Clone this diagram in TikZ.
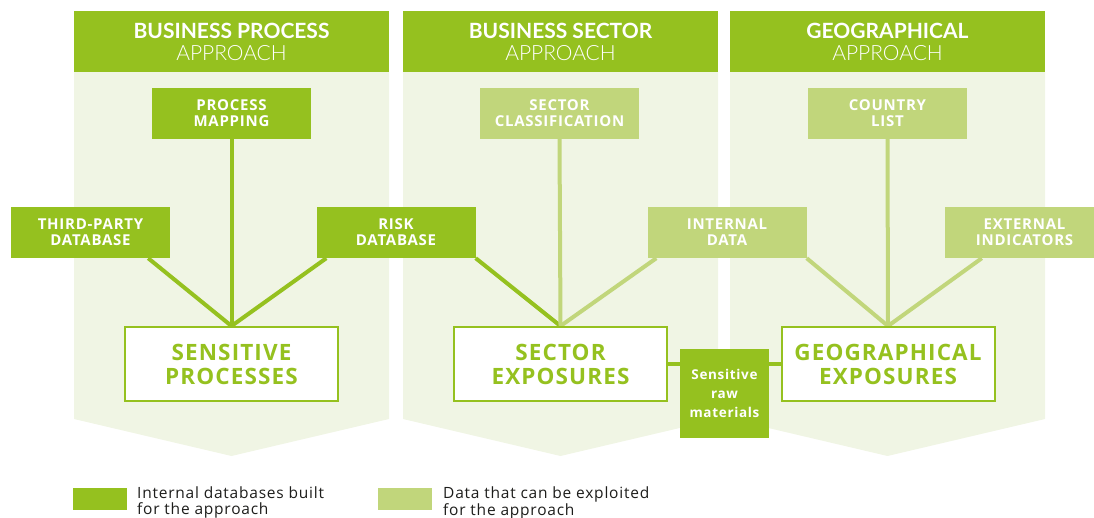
\documentclass[tikz,border=0pt]{standalone}
\usepackage{fontspec}
\setmainfont{Lato}
\newfontfamily\lightfont{Lato Light}
\newfontfamily\boxfont{Open Sans}[LetterSpace=5]

\definecolor{darkgreen}{HTML}{95C11F}
\definecolor{lightgreen}{HTML}{C1D67B}
\definecolor{paleback}{HTML}{F0F5E4}
\definecolor{legendtext}{HTML}{1D1D1B}

\pgfdeclarelayer{backdrop}
\pgfdeclarelayer{links}
\pgfsetlayers{backdrop,links,main}

\tikzset{
  header/.style={fill=darkgreen, text=white, minimum width=315, minimum height=61, inner sep=0, align=center, font=\fontsize{21}{22}\selectfont},
  darkbox/.style={fill=darkgreen, text=white, minimum width=159, minimum height=51, inner sep=0, align=center, font=\boxfont\fontsize{15}{16}\selectfont\bfseries},
  lightbox/.style={darkbox, fill=lightgreen},
  resultbox/.style={draw=darkgreen, line width=2, fill=white, text=darkgreen, minimum width=213, minimum height=74, inner sep=0, align=center, font=\boxfont\fontsize{22.5}{24}\selectfont\bfseries},
  darklink/.style={draw=darkgreen, line width=4},
  lightlink/.style={draw=lightgreen, line width=4},
  legendlabel/.style={anchor=north west, inner sep=0, align=left, text=legendtext, font=\boxfont\fontsize{15.5}{15.5}\selectfont},
}

\begin{document}
\begin{tikzpicture}[x=1pt, y=-1pt]
\useasboundingbox (0,0) rectangle (1094,518);

%%% backgrounds
\begin{pgfonlayer}{backdrop}
\foreach \xl/\xm/\xr in {74/231.5/389, 403/560.5/718, 730/887.5/1045}
  \fill [paleback] (\xl,72) -- (\xr,72) -- (\xr,419) -- (\xm,456) -- (\xl,419) -- cycle;
\end{pgfonlayer}

%%% nodes

% approach headers
\node [header] (hproc) at (231.5, 41.5) {{\bfseries BUSINESS PROCESS}\\{\lightfont APPROACH}};
\node [header] (hsect) at (560.5, 41.5) {{\bfseries BUSINESS SECTOR}\\{\lightfont APPROACH}};
\node [header] (hgeo) at (887.5, 41.5) {{\bfseries GEOGRAPHICAL}\\{\lightfont APPROACH}};

% source nodes
\node [darkbox] (pm) at (231.5, 113.5) {PROCESS\\MAPPING};
\node [lightbox] (sc) at (559.5, 113.5) {SECTOR\\CLASSIFICATION};
\node [lightbox] (cl) at (887.5, 113.5) {COUNTRY\\LIST};
\node [darkbox] (tp) at (90.5, 232.5) {THIRD-PARTY\\DATABASE};
\node [darkbox] (rd) at (396, 232.5) {RISK\\DATABASE};
\node [lightbox] (id) at (727, 232.5) {INTERNAL\\DATA};
\node [lightbox] (ei) at (1024.5, 232.5) {EXTERNAL\\INDICATORS};

% result nodes
\node [resultbox] (spx) at (231.5, 364) {SENSITIVE\\PROCESSES};
\node [resultbox] (sex) at (560.5, 364) {SECTOR\\EXPOSURES};
\node [resultbox] (gex) at (888, 364) {GEOGRAPHICAL\\EXPOSURES};
\node [darkbox, minimum width=89, minimum height=89, font=\boxfont\fontsize{13.5}{19}\selectfont\bfseries] (srm) at (724.5, 393.5) {Sensitive\\raw\\materials};

%%% edges
\begin{pgfonlayer}{links}
% business process
\draw [darklink] (pm.south) -- (spx.north);
\draw [darklink] ([xshift=-22]tp.south east) -- (spx.north);
\draw [darklink] ([xshift=10]rd.south west) -- (spx.north);

% business sector
\draw [darklink] (rd.south east) -- (sex.north);
\draw [lightlink] (sc.south) -- (sex.north);
\draw [lightlink] ([xshift=9]id.south west) -- (sex.north);

% geographical
\draw [lightlink] (id.south east) -- (gex.north);
\draw [lightlink] (cl.south) -- (gex.north);
\draw [lightlink] ([xshift=37]ei.south west) -- (gex.north);

% raw materials
\draw [darklink] (sex.east) -- (sex.east -| srm.west);
\draw [darklink] (srm.east |- gex.west) -- (gex.west);
\end{pgfonlayer}

%%% legend
\fill [darkgreen] (73,488) rectangle (127,510);
\fill [lightgreen] (378,488) rectangle (432,510);
\node [legendlabel] (lint) at (137, 487) {Internal databases built\\for the approach};
\node [legendlabel] (lext) at (443, 487) {Data that can be exploited\\for the approach};
\end{tikzpicture}
\end{document}
